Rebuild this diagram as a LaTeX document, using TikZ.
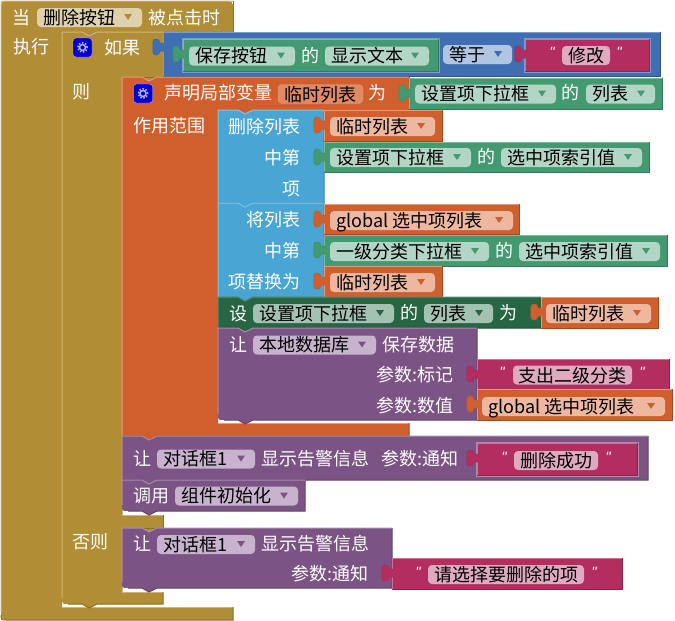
\documentclass[tikz,border=0pt]{standalone}
\usepackage{fontspec}
\setmainfont{Noto Sans CJK SC}
\newfontfamily\quotefont{Liberation Sans}
\usetikzlibrary{calc,positioning}

\definecolor{gold}{HTML}{B18E35}\definecolor{goldlight}{HTML}{CDB57A}\definecolor{golddark}{HTML}{8A6F29}\definecolor{goldfield}{HTML}{E0D1AE}
\definecolor{logic}{HTML}{3F6FB2}\definecolor{logiclight}{HTML}{7A9BCB}\definecolor{logicdark}{HTML}{2F5488}\definecolor{logicfield}{HTML}{B1C4E0}
\definecolor{rust}{HTML}{D05F2D}\definecolor{rustlight}{HTML}{E59A78}\definecolor{rustdark}{HTML}{A34A23}\definecolor{rustfield}{HTML}{EEB8A0}
\definecolor{jade}{HTML}{439970}\definecolor{jadelight}{HTML}{7EBB9C}\definecolor{jadedark}{HTML}{357A58}\definecolor{jadefield}{HTML}{B3D5C5}
\definecolor{pine}{HTML}{266643}\definecolor{pinelight}{HTML}{5E8C70}\definecolor{pinedark}{HTML}{1E5135}\definecolor{pinefield}{HTML}{A4C2B2}
\definecolor{plum}{HTML}{7C5385}\definecolor{plumlight}{HTML}{A78EAE}\definecolor{plumdark}{HTML}{61416A}\definecolor{plumfield}{HTML}{C8B3CE}
\definecolor{berry}{HTML}{B32D5E}\definecolor{berrylight}{HTML}{CF7096}\definecolor{berrydark}{HTML}{8F2449}\definecolor{berryfield}{HTML}{DFA9BF}
\definecolor{sky}{HTML}{49A6D4}\definecolor{skylight}{HTML}{81C3E3}\definecolor{skydark}{HTML}{3A85AA}
\definecolor{iconblue}{HTML}{0000CC}
\definecolor{namefield}{HTML}{E08A63}

\tikzset{
  lbl/.style={text=white,inner sep=0pt,text height=14pt,text depth=0pt,font=\fontsize{18}{18}\selectfont},
  lblr/.style={lbl,anchor=east},
  fieldbox/.style={rounded corners=4pt,inner sep=0pt,minimum height=19pt},
  fieldtext/.style={lbl,text=black,anchor=west},
  quotemark/.style={lbl,font=\fontsize{15}{15}\quotefont\itshape},
  iconbox/.style={fill=iconblue,draw=white!70!iconblue,rounded corners=3pt,minimum size=19pt,inner sep=0pt},
  rim/.style={line width=1pt},
}

% statement block: optional corner, colour, x1, y1, x2, y2
\newcommand{\stmtblock}[6][0]{
  \fill[#2] (#3,#4) -- ({#3+20},#4) -- ({#3+27},{#4+4}) -- ({#3+35},#4) -- (#5,#4) -- (#5,#6)
    -- ({#3+35},#6) -- ({#3+27},{#6+4}) -- ({#3+20},#6) -- ({#3+#1},#6)
    .. controls (#3,#6) .. (#3,{#6-#1}) -- cycle;
  \draw[rim,#2dark] (#5,#4) -- (#5,#6) -- ({#3+35},#6) -- ({#3+27},{#6+4}) -- ({#3+20},#6) -- ({#3+#1},#6);
  \draw[rim,#2light] (#3,{#6-#1}) -- (#3,#4) -- ({#3+20},#4) -- ({#3+27},{#4+4}) -- ({#3+35},#4) -- (#5,#4);
}
% value block with its plug: colour, x1, y1, x2, y2
\newcommand{\valblock}[5]{
  \fill[#1] (#2,#3) -- (#4,#3) -- (#4,#5) -- (#2,#5) -- cycle;
  \draw[rim,#1dark] (#4,#3) -- (#4,#5) -- (#2,#5);
  \draw[rim,#1light] (#2,#5) -- (#2,#3) -- (#4,#3);
  \filldraw[draw=#1dark!40!#1,fill=#1,line width=.5pt] ({#2+1},{#3+19}) -- ({#2-3},{#3+19})
    .. controls ({#2-3},{#3+22}) and ({#2-5},{#3+23}) .. ({#2-7},{#3+23})
    .. controls ({#2-11},{#3+23}) and ({#2-10},{#3+19}) .. ({#2-10},{#3+15})
    .. controls ({#2-10},{#3+11}) and ({#2-11},{#3+7}) .. ({#2-7},{#3+7})
    .. controls ({#2-5},{#3+7}) and ({#2-3},{#3+8}) .. ({#2-3},{#3+11}) -- ({#2+1},{#3+11});
}
% pale frame of an inline input
\newcommand{\insetframe}[5]{
  \draw[rim,#1light] ({#2-1},{#3-1}) rectangle ({#4+1},{#5+1});
}
% dropdown: name, colour, x1, x2, ymid, text
\newcommand{\dropfield}[6]{
  \node[fieldbox,fill=#2field,minimum width={(#4-#3)*1pt}] (#1) at ({(#3+#4)/2},#5) {};
  \node[fieldtext] (#1t) at ({#3+6},{#5-.5}) {#6};
  \fill[#2] ({#4-18},{#5-3.5}) -- ({#4-10},{#5-3.5}) -- ({#4-14},{#5+2.5}) -- cycle;
}
% text field: name, colour, x1, x2, ymid, text
\newcommand{\textfield}[6]{
  \node[fieldbox,fill=#2field,minimum width={(#4-#3)*1pt}] (#1) at ({(#3+#4)/2},#5) {};
  \node[lbl,text=black] (#1t) at (#1) {#6};
}
\newcommand{\gearicon}[3]{
  \node[iconbox] (#1) at (#2,#3) {};
  \draw[white!70!iconblue,line width=1.5pt] (#1) circle (3pt);
  \draw[white!70!iconblue,line width=1.5pt,dash pattern=on 1.6pt off 1.6pt] (#1) circle (4.8pt);
}

\begin{document}
\begin{tikzpicture}[x=1pt,y=-1pt]
  \useasboundingbox (0,0) rectangle (675,621);

  % event block
  \fill[gold] (1,300) [rounded corners=4pt] -- (1,1) -- (233,1) [sharp corners] -- (233,32) -- (97,32) -- (89,36) -- (82,32) -- (62,32)
    -- (62,607) -- (233,607) -- (233,620) [rounded corners=4pt] -- (1,620) -- (1,300) -- cycle;
  \draw[rim,goldlight] (1,612) -- (1,6) .. controls (1,1) .. (6,1) -- (233,1);
  \draw[rim,golddark] (233,1) -- (233,32) -- (97,32);
  \draw[rim,goldlight] (62,607) -- (233,607);
  \draw[rim,golddark] (233,607) -- (233,620) -- (6,620) .. controls (1,620) .. (1,615);
  \node[lbl] (whenlbl) at (21.5,17) {当};
  \dropfield{btnfield}{gold}{37}{142}{17.5}{删除按钮}
  \node[lbl] (clicklbl) at (184,17) {被点击时};
  \node[lbl] (dolbl) at (31,46) {执行};

  % if block
  \fill[gold] (62,32) -- (82,32) -- (89,36) -- (97,32) -- (163,32) -- (163,77) -- (157,77) -- (149,81) -- (142,77) -- (122,77)
    -- (122,515) -- (163,515) -- (163,528) -- (157,528) -- (149,532) -- (142,528) -- (122,528)
    -- (122,592) -- (163,592) -- (163,604) -- (97,604) -- (89,608) -- (82,604) -- (68,604) .. controls (62,604) .. (62,598) -- cycle;
  \draw[rim,goldlight] (62,598) -- (62,32) -- (82,32) -- (89,36) -- (97,32) -- (163,32);
  \draw[rim,golddark] (163,32) -- (163,77) -- (122,77);
  \draw[rim,goldlight] (122,77) -- (122,515) -- (163,515);
  \draw[rim,golddark] (163,515) -- (163,528) -- (122,528);
  \draw[rim,goldlight] (122,528) -- (122,592) -- (163,592);
  \draw[rim,golddark] (163,592) -- (163,604) -- (97,604) -- (89,608) -- (82,604) -- (68,604);
  \gearicon{ificon}{82.5}{47.5}
  \node[lbl] (iflbl) at (122,47) {如果};
  \node[lbl] (thenlbl) at (81,91) {则};
  \node[lbl] (elselbl) at (90,541) {否则};

  % condition
  \valblock{logic}{163}{32}{660}{76}
  \insetframe{logic}{183}{39}{438}{71}
  \valblock{jade}{183}{39}{438}{71}
  \dropfield{savefield}{jade}{189}{295}{56}{保存按钮}
  \node[lbl] (ofa) at (310,55) {的};
  \dropfield{propa}{jade}{325}{429}{56}{显示文本}
  \dropfield{eqfield}{logic}{443}{512}{54.5}{等于}
  \insetframe{logic}{525}{39}{649}{71}
  \valblock{berry}{525}{39}{649}{71}
  \node[quotemark] (qa) at (552,50) {"};
  \textfield{modfield}{berry}{562}{610}{55.5}{修改}
  \node[quotemark] (qb) at (619,50) {"};

  % local variable block
  \fill[rust] (122,77) -- (142,77) -- (149,81) -- (157,77) -- (409,77) -- (409,110) -- (253,110) -- (245,114) -- (238,110) -- (218,110)
    -- (218,423) -- (409,423) -- (409,436) -- (157,436) -- (149,440) -- (142,436) -- (122,436) -- cycle;
  \draw[rim,rustlight] (122,436) -- (122,77) -- (142,77) -- (149,81) -- (157,77) -- (409,77);
  \draw[rim,rustdark] (409,77) -- (409,110);
  \draw[rim,rustlight] (218,423) -- (409,423);
  \draw[rim,rustdark] (409,423) -- (409,436) -- (157,436) -- (149,440) -- (142,436) -- (122,436);
  \gearicon{localicon}{143}{93.5}
  \node[lbl] (locallbl) at (218,92) {声明局部变量};
  \node[fieldbox,fill=namefield,draw=rustlight,minimum width=85pt] (tmpname) at (320.5,94) {};
  \node[lbl,text=black] (tmpnamet) at (tmpname) {临时列表};
  \node[lbl] (asa) at (377,92) {为};
  \node[lbl] (scopelbl) at (169,125) {作用范围};
  \valblock{jade}{409}{78}{662}{109}
  \dropfield{setfielda}{jade}{415}{556}{94}{设置项下拉框}
  \node[lbl] (ofb) at (570,92) {的};
  \dropfield{propb}{jade}{586}{655}{94}{列表}

  % remove item
  \stmtblock{sky}{218}{110}{324}{203}
  \node[lblr] (remlbl) at (301,126) {删除列表};
  \node[lblr] (inlbla) at (301,157) {中第};
  \node[lblr] (itemlbl) at (301,188) {项};
  \valblock{rust}{324}{110}{442}{141}
  \dropfield{tmpa}{rust}{330}{435}{126.5}{临时列表}
  \valblock{jade}{324}{142}{649}{172}
  \dropfield{setfieldb}{jade}{330}{471}{157.5}{设置项下拉框}
  \node[lbl] (ofc) at (486,156) {的};
  \dropfield{propc}{jade}{501}{642}{157.5}{选中项索引值}

  % replace item
  \stmtblock{sky}{218}{203}{324}{297}
  \node[lblr] (replbl) at (301,219) {将列表};
  \node[lblr] (inlblb) at (301,250) {中第};
  \node[lblr] (withlbl) at (301,281) {项替换为};
  \valblock{rust}{324}{204}{519}{234}
  \dropfield{globa}{rust}{330}{513}{220.5}{global 选中项列表}
  \valblock{jade}{324}{235}{667}{266}
  \dropfield{catfield}{jade}{330}{489}{251.5}{一级分类下拉框}
  \node[lbl] (ofd) at (504,250) {的};
  \dropfield{propd}{jade}{519}{660}{251.5}{选中项索引值}
  \valblock{rust}{324}{266}{442}{297}
  \dropfield{tmpb}{rust}{330}{435}{282.5}{临时列表}

  % set property
  \stmtblock{pine}{218}{297}{541}{328}
  \node[lbl] (setlbl) at (238,313) {设};
  \dropfield{setfieldc}{pine}{253}{394}{313.5}{设置项下拉框}
  \node[lbl] (ofe) at (409,312) {的};
  \dropfield{prope}{pine}{424}{493}{313.5}{列表}
  \node[lbl] (asb) at (508,312) {为};
  \valblock{rust}{541}{297}{658}{328}
  \dropfield{tmpc}{rust}{546}{651}{313.5}{临时列表}

  % store value
  \stmtblock[6]{plum}{218}{328}{477}{420}
  \node[lbl] (leta) at (238,344) {让};
  \dropfield{dbfield}{plum}{253}{376}{345}{本地数据库}
  \node[lbl] (storelbl) at (418,344) {保存数据};
  \node[lblr] (taglbl) at (454,374) {参数:标记};
  \node[lblr] (vallbl) at (454,405) {参数:数值};
  \valblock{berry}{477}{359}{669}{389}
  \node[quotemark] (qc) at (502,370) {"};
  \textfield{tagfield}{berry}{513}{632}{375}{支出二级分类}
  \node[quotemark] (qd) at (642,370) {"};
  \valblock{rust}{477}{389}{672}{420}
  \dropfield{globb}{rust}{482}{665}{406.5}{global 选中项列表}

  % alert, then init
  \stmtblock{plum}{122}{436}{648}{480}
  \node[lbl] (letb) at (142,458) {让};
  \dropfield{dlga}{plum}{157}{255}{459}{对话框1}
  \node[lbl] (alerta) at (315,458) {显示告警信息};
  \node[lbl] (notea) at (419.5,458) {参数:通知};
  \insetframe{plum}{477}{443}{637}{475}
  \valblock{berry}{477}{443}{637}{475}
  \node[quotemark] (qe) at (504,455) {"};
  \textfield{okfield}{berry}{514}{598}{460.5}{删除成功}
  \node[quotemark] (qf) at (608,455) {"};
  \stmtblock[6]{plum}{122}{480}{305}{511}
  \node[lbl] (calllbl) at (151,495) {调用};
  \dropfield{initfield}{plum}{175}{298}{496}{组件初始化}

  % else branch
  \stmtblock[6]{plum}{122}{528}{392}{588}
  \node[lbl] (letc) at (142,543) {让};
  \dropfield{dlgb}{plum}{157}{255}{544.5}{对话框1}
  \node[lbl] (alertb) at (315,543) {显示告警信息};
  \node[lblr] (noteb) at (369,573) {参数:通知};
  \valblock{berry}{392}{558}{622}{589}
  \node[quotemark] (qg) at (418,570) {"};
  \textfield{pickfield}{berry}{428}{584}{574.5}{请选择要删除的项}
  \node[quotemark] (qh) at (594,570) {"};
\end{tikzpicture}
\end{document}
